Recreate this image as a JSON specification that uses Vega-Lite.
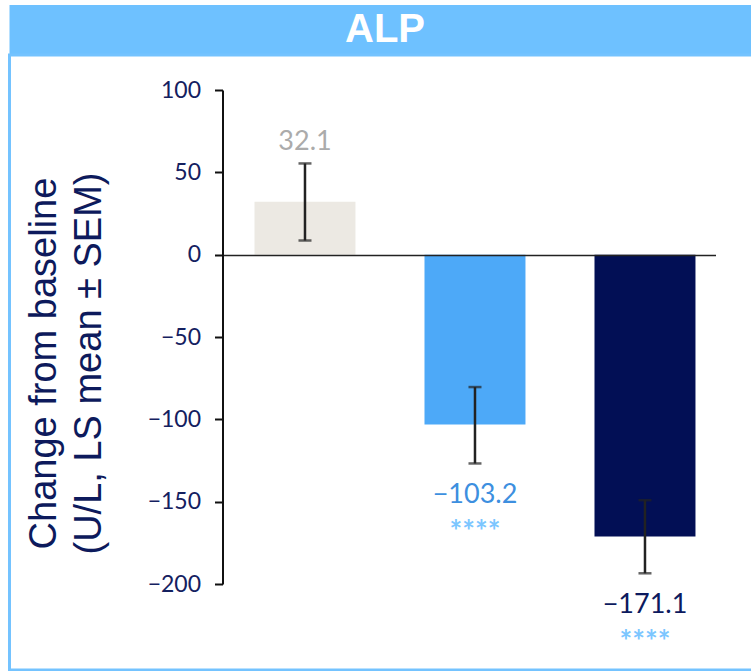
{
  "$schema": "https://vega.github.io/schema/vega-lite/v6.json",
  "padding": {"left": 7.5, "top": 5, "right": 0, "bottom": 0},
  "spacing": 0,
  "bounds": "flush",
  "background": "white",
  "vconcat": [
    {
      "width": 751,
      "height": 50,
      "view": {"stroke": null, "fill": "#6EC1FF"},
      "data": {"values": [{"title": "ALP"}]},
      "mark": {"type": "text", "font": "Liberation Sans", "fontWeight": "bold", "fontSize": 40, "color": "white", "baseline": "middle", "align": "center"},
      "encoding": {"text": {"field": "title"}}
    },
    {
      "width": 751,
      "height": 615,
      "view": {"stroke": "#74C3FF", "strokeWidth": 3, "fill": "white"},
      "data": {"values": [
        {"group": "Placebo", "mean": 32.1, "lo": 8.6, "hi": 55.4, "label": "32.1", "stars": ""},
        {"group": "Dose 1", "mean": -103.2, "lo": -126.8, "hi": -80.4, "label": "−103.2", "stars": "****"},
        {"group": "Dose 2", "mean": -171.1, "lo": -193.5, "hi": -149.1, "label": "−171.1", "stars": "****"}
      ]},
      "resolve": {"scale": {"color": "independent"}},
      "layer": [
        {
          "mark": {"type": "bar"},
          "encoding": {
            "x": {"field": "group", "type": "nominal", "sort": null,
              "scale": {"range": [213, 706], "paddingInner": 0.406, "paddingOuter": 0.153, "align": 0.615},
              "axis": {"orient": "top", "offset": -200, "domain": true, "domainColor": "#222222", "domainWidth": 1.5, "ticks": false, "labels": false, "title": null, "zindex": 1}},
            "y": {"field": "mean", "type": "quantitative",
              "scale": {"domain": [-200, 100], "range": [529, 35], "nice": false},
              "axis": {"orient": "left", "offset": -213, "values": [-200, -150, -100, -50, 0, 50, 100], "grid": false,
                "domainColor": "#111111", "domainWidth": 2, "tickColor": "#111111", "tickWidth": 2, "tickSize": 8,
                "labelFont": "Lato", "labelFontSize": 23, "labelColor": "#14205F", "labelPadding": 14,
                "title": ["Change from baseline", "(U/L, LS mean ± SEM)"], "titleFont": "Liberation Sans", "titleFontSize": 38, "titleFontWeight": "normal",
                "titleColor": "#0D1A5C", "titlePadding": 39, "titleLineHeight": 45, "titleY": 308, "zindex": 1}},
            "color": {"field": "group", "type": "nominal", "sort": null,
              "scale": {"domain": ["Placebo", "Dose 1", "Dose 2"], "range": ["#ECE9E3", "#4DA9F8", "#020F55"]}, "legend": null}
          }
        },
        {
          "mark": {"type": "rule", "color": "#222222", "strokeWidth": 2.5},
          "encoding": {
            "x": {"field": "group", "type": "nominal", "sort": null},
            "y": {"field": "lo", "type": "quantitative"},
            "y2": {"field": "hi"}
          }
        },
        {
          "mark": {"type": "tick", "color": "#222222", "size": 13, "thickness": 2.5, "orient": "horizontal"},
          "encoding": {
            "x": {"field": "group", "type": "nominal", "sort": null},
            "y": {"field": "lo", "type": "quantitative"}
          }
        },
        {
          "mark": {"type": "tick", "color": "#222222", "size": 13, "thickness": 2.5, "orient": "horizontal"},
          "encoding": {
            "x": {"field": "group", "type": "nominal", "sort": null},
            "y": {"field": "hi", "type": "quantitative"}
          }
        },
        {
          "transform": [{"filter": "datum.mean > 0"}],
          "mark": {"type": "text", "font": "Lato", "fontSize": 27, "baseline": "middle", "dy": -21},
          "encoding": {
            "x": {"field": "group", "type": "nominal", "sort": null},
            "y": {"field": "hi", "type": "quantitative"},
            "text": {"field": "label"},
            "color": {"field": "group", "type": "nominal", "sort": null,
              "scale": {"domain": ["Placebo", "Dose 1", "Dose 2"], "range": ["#ABABAB", "#3D8FDF", "#0C1A5E"]}, "legend": null}
          }
        },
        {
          "transform": [{"filter": "datum.mean < 0"}],
          "mark": {"type": "text", "font": "Lato", "fontSize": 27, "baseline": "middle", "dy": 32},
          "encoding": {
            "x": {"field": "group", "type": "nominal", "sort": null},
            "y": {"field": "lo", "type": "quantitative"},
            "text": {"field": "label"},
            "color": {"field": "group", "type": "nominal", "sort": null,
              "scale": {"domain": ["Placebo", "Dose 1", "Dose 2"], "range": ["#ABABAB", "#3D8FDF", "#0C1A5E"]}, "legend": null}
          }
        },
        {
          "transform": [{"filter": "datum.mean < 0"}],
          "mark": {"type": "text", "font": "Lato", "fontSize": 30, "fontWeight": "bold", "baseline": "middle", "dy": 70, "color": "#7CC6FF"},
          "encoding": {
            "x": {"field": "group", "type": "nominal", "sort": null},
            "y": {"field": "lo", "type": "quantitative"},
            "text": {"field": "stars"}
          }
        }
      ]
    }
  ]
}
